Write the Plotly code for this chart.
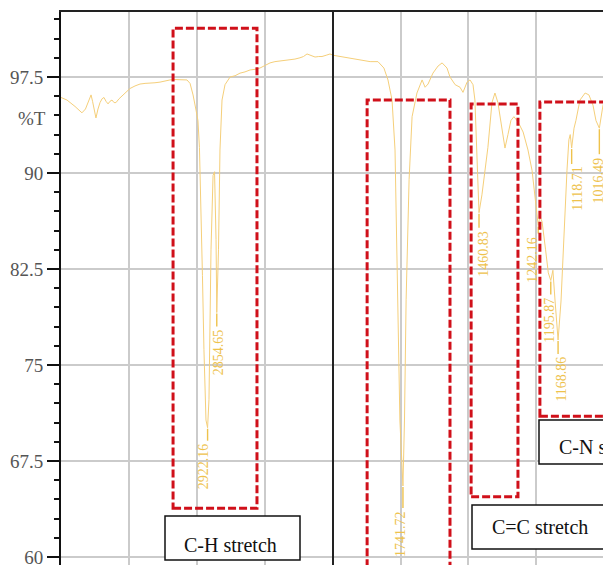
import plotly.graph_objects as go

# ---- data ----
wavenumber = [4000, 3956, 3897, 3846, 3820, 3809, 3779, 3768, 3757, 3743, 3728, 3713, 3698, 3684,
              3669, 3654, 3640, 3625, 3610, 3596, 3573, 3551, 3522, 3493, 3456, 3419, 3382, 3346,
              3309, 3272, 3235, 3199, 3162, 3125, 3100, 3074, 3051, 3029, 3007, 2993, 2982, 2971,
              2960, 2949, 2934, 2922.16, 2912, 2897, 2882, 2871, 2860, 2854.65, 2842, 2831, 2816,
              2794, 2757, 2720, 2684, 2647, 2610, 2573, 2537, 2500, 2463, 2427, 2390, 2353, 2316,
              2280, 2243, 2217, 2191, 2160, 2132, 2105, 2081, 2050, 2022, 2000,
              1974, 1937, 1900, 1863, 1834, 1812, 1797, 1782, 1771, 1760, 1753, 1741.72, 1736,
              1730, 1719, 1708, 1690, 1671, 1660, 1649, 1631, 1612, 1597, 1579, 1568, 1549, 1531,
              1520, 1505, 1494, 1483, 1476, 1470, 1466, 1460.83, 1450, 1438, 1428, 1413, 1402,
              1391, 1376, 1365, 1354, 1343, 1332, 1317, 1298, 1280, 1265, 1254, 1242.16, 1236,
              1228, 1215, 1205, 1195.87, 1188, 1180, 1168.86, 1158, 1147, 1136, 1129, 1124,
              1118.71, 1110, 1103, 1088, 1069, 1055, 1040, 1029, 1016.49, 1010, 1003, 995]
transmittance = [95.9, 95.7, 95.2, 94.7, 95.0, 95.3, 96.1, 95.6, 94.9, 94.3, 95.0, 95.5, 95.8, 95.9,
                 95.6, 95.4, 95.6, 95.7, 95.5, 95.5, 95.8, 96.0, 96.3, 96.6, 96.8, 96.95, 97.0, 97.0,
                 97.05, 97.1, 97.2, 97.27, 97.3, 97.27, 97.3, 97.27, 97.0, 96.1, 94.9, 94.1, 92.0, 87.9,
                 82.0, 76.2, 70.7, 70.1, 72.3, 84.0, 89.8, 90.1, 84.8, 79.1, 84.0, 91.8, 95.7,
                 96.9, 97.5, 97.6, 97.8, 97.9, 98.05, 98.1, 98.2, 98.4, 98.6, 98.7, 98.75, 98.8, 98.8,
                 98.9, 99.0, 99.1, 99.3, 99.2, 99.06, 99.1, 99.1, 99.2, 99.3, 99.2,
                 99.1, 98.97, 98.8, 98.7, 98.7, 98.2, 97.27, 95.7, 91.8, 80.1, 70.7, 65.55, 70.7,
                 80.1, 89.5, 94.4, 96.25, 97.27, 96.7, 96.95, 97.8, 98.36, 98.6, 98.2, 97.5, 96.9, 96.7,
                 96.3, 97.1, 97.27, 96.9, 95.7, 91.8, 88.7, 86.9, 88.3, 90.2, 92.0, 95.5, 96.25,
                 95.5, 93.5, 91.95, 93.0, 94.1, 94.4, 94.0, 93.2, 91.8, 90.2, 87.9, 85.9, 86.6,
                 86.2, 84.0, 82.2, 81.6, 82.4, 80.0, 76.95, 80.0, 85.5, 90.2, 92.6, 93.0,
                 91.95, 93.5, 94.1, 95.7, 96.25, 96.1, 95.3, 94.1, 93.5, 94.5, 95.3, 95.8]

peak_wn = [2922.16, 2854.65, 1741.72, 1460.83, 1242.16, 1195.87, 1168.86, 1118.71, 1016.49]
peak_T = [70.1, 79.1, 65.55, 86.9, 85.9, 81.6, 76.95, 91.95, 93.5]
peak_labels = ["2922.16", "2854.65", "1741.72", "1460.83", "1242.16", "1195.87", "1168.86", "1118.71", "1016.49"]

band_labels = ["C-H stretch", "C=C stretch", "C-N stretch"]

y_ticks = [60, 67.5, 75, 82.5, 90, 97.5]

# ---- geometry helpers (layout only) ----
W, H = 603, 565
ML, MT = 61, 12
PW, PH = W - ML, H - MT
PX_PER_UNIT = 12.8


def px_x(px):
    return (px - ML) / PW


def px_y(py):
    return (H - py) / PH


split = px_x(333)

line_col = "#F5CF7A"
lab_col = "#EEC24C"
serif = "Liberation Serif, Times New Roman, serif"

left_x = [w for w in wavenumber if w >= 2000]
left_y = [t for w, t in zip(wavenumber, transmittance) if w >= 2000]
right_x = [w for w in wavenumber if w <= 2000]
right_y = [t for w, t in zip(wavenumber, transmittance) if w <= 2000]

fig = go.Figure()
fig.add_trace(go.Scatter(x=left_x, y=left_y, mode="lines", xaxis="x", yaxis="y",
                         line=dict(color=line_col, width=1), hoverinfo="skip"))
fig.add_trace(go.Scatter(x=right_x, y=right_y, mode="lines", xaxis="x2", yaxis="y",
                         line=dict(color=line_col, width=1), hoverinfo="skip"))

grid_col = "#cbcbcb"
fig.update_layout(
    width=W, height=H,
    margin=dict(l=ML, r=0, t=MT, b=0, autoexpand=False),
    paper_bgcolor="white", plot_bgcolor="white",
    showlegend=False,
    xaxis=dict(domain=[0, split], range=[4000, 2000], anchor="y", side="top",
               showgrid=True, gridcolor=grid_col, gridwidth=1.5, tick0=0, dtick=500,
               showticklabels=False, ticks="", zeroline=False,
               showline=True, linecolor="#222", linewidth=2),
    xaxis2=dict(domain=[split, 1], range=[2000, 1003], anchor="y", side="top",
                showgrid=True, gridcolor=grid_col, gridwidth=1.5, tick0=0, dtick=250,
                showticklabels=False, ticks="", zeroline=False,
                showline=True, linecolor="#222", linewidth=2),
    yaxis=dict(range=[97.5 - (H - 77) / PX_PER_UNIT, 97.5 + (77 - MT) / PX_PER_UNIT], anchor="x",
               tickmode="array", tickvals=y_ticks, ticktext=[str(v) for v in y_ticks],
               ticks="outside", ticklen=12, tickwidth=2, tickcolor="#111",
               ticklabeloverflow="allow",
               showline=True, linecolor="#111", linewidth=2,
               showgrid=True, gridcolor=grid_col, gridwidth=1.5, zeroline=False,
               tickfont=dict(family=serif, size=19, color="#555"),
               minor=dict(tick0=60, dtick=1.5, ticks="outside", ticklen=5, tickwidth=2,
                          tickcolor="#111", showgrid=False)),
)

shapes = []
# axis break line
shapes.append(dict(type="line", xref="paper", yref="paper", x0=split, x1=split, y0=0, y1=1,
                   line=dict(color="#222", width=2)))
# peak marker ticks
marker_len = [13, 14, 22, 15, 8, 14, 14, 16, 26]
label_shift = [-4, 2, -2, 5, -6, -2, 3, 5, -1]
for w, t, ml in zip(peak_wn, peak_T, marker_len):
    xr = "x" if w > 2000 else "x2"
    shapes.append(dict(type="line", xref=xr, yref="y", x0=w, x1=w,
                       y0=t - 1 / PX_PER_UNIT, y1=t - ml / PX_PER_UNIT,
                       line=dict(color=lab_col, width=1.4)))
# red dashed band boxes (data coordinates)
red = dict(color="#D0101A", width=3, dash="8px,3px")
shapes.append(dict(type="rect", xref="x", yref="y", x0=3176, x1=2559, y0=63.8, y1=101.3, line=red))
shapes.append(dict(type="rect", xref="x2", yref="y", x0=1874, x1=1568, y0=50, y1=95.7, line=red))
shapes.append(dict(type="rect", xref="x2", yref="y", x0=1490, x1=1317, y0=64.7, y1=95.39, line=red))
shapes.append(dict(type="rect", xref="x2", yref="y", x0=1236, x1=900, y0=71.0, y1=95.55, line=red))
# label boxes (pixel positions)
label_boxes = [(165, 300, 516, 560), (472, 660, 505, 549), (539, 660, 420, 464)]
for (x0, x1, y0, y1) in label_boxes:
    shapes.append(dict(type="rect", xref="paper", yref="paper",
                       x0=px_x(x0), x1=px_x(x1), y0=px_y(y1), y1=px_y(y0),
                       line=dict(color="#111", width=1.5), fillcolor="white"))
fig.update_layout(shapes=shapes)

ann = []
label_pos = [(182, 545), (490, 527), (557, 447)]
for text, (x, y) in zip(band_labels, label_pos):
    ann.append(dict(xref="paper", yref="paper", x=px_x(x), y=px_y(y), text=text,
                    showarrow=False, xanchor="left", yanchor="middle",
                    font=dict(family=serif, size=20, color="#111")))

ann.append(dict(xref="paper", yref="paper", x=px_x(32), y=px_y(119), text="%T",
                showarrow=False, xanchor="center", yanchor="middle",
                font=dict(family=serif, size=19, color="#555")))

for w, t, lab, ml, sh in zip(peak_wn, peak_T, peak_labels, marker_len, label_shift):
    xr = "x" if w > 2000 else "x2"
    ann.append(dict(xref=xr, yref="y", x=w, y=t - (ml + 1) / PX_PER_UNIT, text=lab, textangle=-90,
                    showarrow=False, xanchor="center", yanchor="top", xshift=sh,
                    font=dict(family=serif, size=14, color=lab_col)))
fig.update_layout(annotations=ann)

fig.write_html("out.html")
